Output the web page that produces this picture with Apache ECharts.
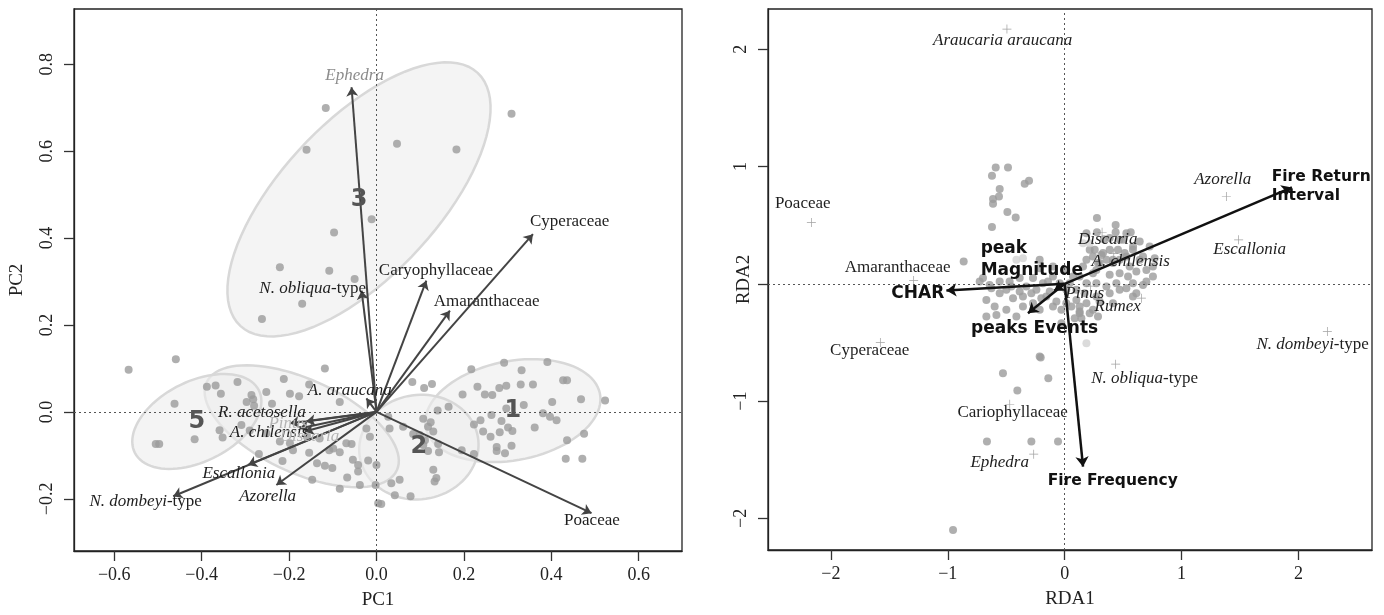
<!DOCTYPE html>
<html>
<head>
<meta charset="utf-8">
<script src="https://cdn.jsdelivr.net/npm/echarts@6/dist/echarts.min.js"></script>
<style>
    html, body { margin: 0; padding: 0; background: #fff; }
    #main { width: 1384px; height: 615px; }
</style>
</head>
<body>
<div id="main"></div>
<script>
// ---- PCA panel (left) ----
var pcaTicksX = [-0.6, -0.4, -0.2, 0.0, 0.2, 0.4, 0.6];
var pcaTicksY = [-0.2, 0.0, 0.2, 0.4, 0.6, 0.8];

// samples (PC1, PC2)
var pcaSites = [
    [-0.116,0.699],[-0.160,0.603],[0.309,0.686],[0.047,0.617],[0.183,0.604],[-0.011,0.443],[-0.097,0.413],
    [-0.221,0.333],[-0.108,0.325],[-0.050,0.306],[-0.170,0.249],[-0.262,0.214],
    [-0.459,0.121],[-0.567,0.097],[-0.118,0.100],[-0.212,0.076],[-0.154,0.063],[-0.318,0.069],[-0.388,0.058],
    [-0.368,0.061],[-0.356,0.042],[-0.252,0.046],[-0.198,0.042],[-0.177,0.036],[-0.286,0.039],[-0.282,0.029],
    [-0.462,0.019],[-0.297,0.023],[-0.280,0.014],[-0.239,0.019],[-0.084,0.023],[-0.359,-0.042],[-0.309,-0.030],
    [-0.352,-0.059],[-0.416,-0.063],[-0.505,-0.074],[-0.497,-0.074],[-0.290,-0.043],[-0.252,-0.049],[-0.221,-0.068],
    [-0.198,-0.072],[-0.269,-0.097],[-0.215,-0.113],[-0.191,-0.088],[-0.154,-0.094],[-0.136,-0.118],[-0.118,-0.124],
    [-0.101,-0.129],[-0.108,-0.088],[-0.099,-0.084],[-0.084,-0.093],[-0.069,-0.072],[-0.057,-0.074],[-0.054,-0.110],
    [-0.042,-0.122],[-0.042,-0.137],[-0.019,-0.112],[-0.147,-0.156],[-0.067,-0.151],[-0.038,-0.168],[-0.084,-0.177],
    [-0.002,-0.168],[0.000,-0.122],[0.004,-0.210],[-0.023,-0.038],[-0.015,-0.057],[-0.159,-0.057],[-0.130,-0.061],
    [0.082,0.069],[0.109,0.055],[0.127,0.064],[0.165,0.012],[0.140,0.003],[0.027,-0.011],[0.030,-0.038],
    [0.061,-0.034],[0.107,-0.016],[0.124,-0.024],[0.118,-0.034],[0.130,-0.045],[0.099,-0.053],[0.084,-0.051],
    [0.111,-0.065],[0.141,-0.074],[0.143,-0.093],[0.118,-0.090],[0.107,-0.076],[0.195,-0.088],[0.223,-0.097],
    [0.130,-0.133],[0.137,-0.152],[0.133,-0.160],[0.034,-0.164],[0.053,-0.156],[0.042,-0.192],[0.078,-0.194],
    [0.011,-0.212],
    [0.217,0.098],[0.292,0.113],[0.332,0.096],[0.391,0.115],[0.427,0.073],[0.436,0.073],[0.231,0.058],
    [0.248,0.040],[0.265,0.039],[0.281,0.055],[0.297,0.060],[0.330,0.063],[0.358,0.063],[0.197,0.040],
    [0.337,0.016],[0.297,0.008],[0.263,-0.007],[0.286,-0.021],[0.301,-0.036],[0.311,-0.044],[0.282,-0.047],
    [0.244,-0.045],[0.261,-0.057],[0.275,-0.081],[0.275,-0.090],[0.294,-0.095],[0.309,-0.078],[0.223,-0.029],
    [0.238,-0.019],[0.362,-0.036],[0.381,-0.003],[0.397,-0.011],[0.412,-0.019],[0.402,0.023],[0.468,0.029],
    [0.523,0.026],[0.475,-0.050],[0.436,-0.065],[0.433,-0.108],[0.471,-0.108]
];

// cluster ellipses: centre x, centre y, semi-major, semi-minor, angle (deg)
var clusterNames = ['1', '2', '3', '4', '5'];
var clusterCx = [0.312, 0.097, -0.040, -0.171, -0.411];
var clusterCy = [0.003, -0.081, 0.489, -0.033, -0.022];
var clusterA = [0.203, 0.137, 0.398, 0.240, 0.159];
var clusterB = [0.114, 0.120, 0.178, 0.107, 0.092];
var clusterAngle = [11, 10, 47, -25, 27];

// pollen taxa loadings
var pcaTaxa = ['Ephedra', 'N. obliqua-type', 'Cyperaceae', 'Caryophyllaceae', 'Amaranthaceae', 'Poaceae',
    'A. araucana', 'R. acetosella', 'A. chilensis', 'Pinus', 'Discaria', 'Escallonia', 'Azorella', 'N. dombeyi-type'];
var pcaTaxaX = [-0.057, -0.034, 0.358, 0.114, 0.168, 0.492, -0.023, -0.161, -0.176, -0.198, -0.164, -0.294, -0.229, -0.465];
var pcaTaxaY = [0.747, 0.279, 0.409, 0.302, 0.233, -0.233, 0.031, -0.022, -0.038, -0.026, -0.045, -0.122, -0.168, -0.194];
var pcaTaxaLabelX = [-0.050, -0.146, 0.442, 0.136, 0.252, 0.493, -0.061, -0.262, -0.246, -0.203, -0.153, -0.315, -0.249, -0.528];
var pcaTaxaLabelY = [0.775, 0.283, 0.439, 0.326, 0.255, -0.249, 0.049, -0.001, -0.047, -0.026, -0.056, -0.141, -0.194, -0.207];

// ---- RDA panel (right) ----
var rdaTicksX = [-2, -1, 0, 1, 2];
var rdaTicksY = [-2, -1, 0, 1, 2];
var rdaLabelsY = [-2, -1, 1, 2];

var rdaSites = [
    [-0.590,0.992],[-0.485,0.992],[-0.622,0.922],[-0.556,0.808],[-0.613,0.723],[-0.562,0.745],[-0.613,0.683],
    [-0.342,0.853],[-0.305,0.879],[-0.490,0.612],[-0.419,0.566],[-0.622,0.484],[-0.864,0.190],
    [0.276,0.561],[0.436,0.501],[0.276,0.441],[0.436,0.441],[0.565,0.441],[0.336,0.381],[0.499,0.375],
    [0.585,0.318],[0.257,0.290],[0.328,0.262],[0.413,0.205],[0.528,0.233],[0.670,0.233],[0.770,0.219],
    [0.755,0.148],[0.299,0.177],[0.271,0.119],
    [-0.727,0.020],[-0.642,-0.009],[-0.556,0.020],[-0.499,-0.051],[-0.670,-0.137],[-0.599,-0.193],[-0.442,-0.122],
    [-0.385,-0.066],[-0.328,-0.023],[-0.242,-0.051],[-0.157,-0.108],[-0.271,-0.165],[-0.357,-0.193],[-0.499,-0.222],
    [-0.413,-0.279],[-0.584,-0.265],[-0.670,-0.279],[-0.214,-0.222],[-0.100,-0.193],[0.014,-0.165],[0.100,-0.137],
    [0.128,-0.250],[-0.214,-0.620],[0.014,-0.051],[-0.143,0.020],[-0.271,0.049],[-0.385,0.049],[-0.471,0.020],
    [-0.214,0.134],[-0.100,0.148],[-0.214,0.205],
    [0.128,0.062],[0.186,0.006],[0.242,0.091],[0.285,0.177],[0.186,0.432],[0.385,0.390],[0.470,0.375],
    [0.528,0.432],[0.642,0.361],[0.727,0.318],[0.357,0.205],[0.413,0.177],[0.470,0.205],[0.556,0.148],
    [0.642,0.205],[0.699,0.119],[0.755,0.062],[0.584,0.006],[0.670,-0.009],[0.470,-0.051],[0.385,-0.080],
    [0.271,-0.108],[0.186,-0.165],[0.128,-0.193],[0.242,-0.222],[0.413,-0.165],[0.584,-0.108],[0.100,-0.051],
    [0.171,-0.080],[0.071,0.062],[0.043,0.006],[0.014,0.119],[0.186,0.205],[0.157,0.148],
    [-0.699,0.049],[-0.627,-0.037],[-0.556,-0.080],[-0.456,-0.023],[-0.357,-0.108],[-0.285,-0.080],[-0.200,-0.122],
    [-0.128,-0.066],[-0.071,-0.151],[-0.028,-0.222],[0.057,-0.193],[0.086,-0.293],[-0.028,-0.336],
    [0.214,0.290],[0.242,0.233],[0.314,0.247],[0.385,0.290],[0.456,0.290],[0.513,0.262],[0.584,0.290],
    [0.385,0.077],[0.470,0.091],[0.542,0.062],[0.613,0.105],[0.699,0.020],[0.271,0.006],[0.357,-0.023],
    [0.442,0.006],[0.528,-0.037],[0.613,-0.080],[0.299,-0.151],[0.214,-0.250],[0.143,-0.293],[0.285,-0.279],
    [-0.043,0.006],[-0.100,0.062],[-0.186,0.006],
    [-0.205,-0.629],[-0.528,-0.762],[-0.140,-0.805],[-0.405,-0.910],[-0.665,-1.345],[-0.285,-1.345],
    [-0.057,-1.345],[-0.955,-2.099],[0.128,-0.236]
];
var rdaSitesLight = [[0.157,0.347],[0.214,0.347],[-0.413,0.205],[-0.357,0.219],[0.186,-0.506]];

// species scores
var rdaTaxa = ['Araucaria araucana', 'Poaceae', 'Amaranthaceae', 'Cyperaceae', 'Cariophyllaceae', 'Ephedra', 'Azorella',
    'Escallonia', 'N. dombeyi-type', 'N. obliqua-type', 'Rumex', 'Discaria', 'A. chilensis', 'Pinus'];
var rdaTaxaX = [-0.494, -2.167, -1.292, -1.577, -0.470, -0.265, 1.383, 1.488, 2.247, 0.436, 0.656, 0.320, 0.420, 0.220];
var rdaTaxaY = [2.173, 0.523, 0.028, -0.501, -1.027, -1.453, 0.745, 0.375, -0.407, -0.685, -0.122, 0.440, 0.260, -0.020];
var rdaTaxaLabelX = [-0.530, -2.241, -1.429, -1.668, -0.445, -0.556, 1.352, 1.583, 2.121, 0.684, 0.453, 0.368, 0.565, 0.171];
var rdaTaxaLabelY = [2.073, 0.683, 0.137, -0.572, -1.101, -1.527, 0.887, 0.290, -0.520, -0.811, -0.196, 0.375, 0.188, -0.085];

// environmental vectors
var rdaEnv = ['Fire Return\nInterval', 'CHAR', 'Fire Frequency', 'peaks Events', 'peak\nMagnitude'];
var rdaEnvX = [1.944, -1.012, 0.157, -0.314, -0.090];
var rdaEnvY = [0.822, -0.057, -1.559, -0.250, -0.060];
var rdaEnvLabelX = [1.771, -1.257, 0.411, -0.257, -0.719];
var rdaEnvLabelY = [0.828, -0.085, -1.681, -0.378, 0.205];

var serif = 'Liberation Serif';
var sans = 'DejaVu Sans';
var fadedLabels = { 'Ephedra': '#8c8c8c', 'Pinus': '#b4b4b4', 'Discaria': '#b4b4b4' };

function minusFmt(digits) {
    return function (v) {
        return (v < 0 ? '\u2212' : '') + Math.abs(v).toFixed(digits);
    };
}

function taxonText(name) {
    if (/aceae$/.test(name)) return name;
    if (/-type$/.test(name)) return '{i|' + name.replace('-type', '') + '}-type';
    return '{i|' + name + '}';
}

function makeXAxis(idx, min, max, ticks, digits, name) {
    return {
        gridIndex: idx, type: 'value', min: min, max: max, name: name,
        nameLocation: 'middle', nameGap: 40, nameMoveOverlap: false,
        nameTextStyle: { fontFamily: serif, fontSize: 19, color: '#222' },
        axisLine: { show: true, onZero: false, lineStyle: { color: '#222', width: 1.3 } },
        axisTick: { show: true, inside: false, length: 10, customValues: ticks, lineStyle: { color: '#333', width: 1.3 } },
        axisLabel: { customValues: ticks, formatter: minusFmt(digits), margin: 15, fontFamily: serif, fontSize: 18, color: '#222' },
        splitLine: { show: false }
    };
}

function makeYAxis(idx, min, max, ticks, labels, digits, name, gap) {
    return {
        gridIndex: idx, type: 'value', min: min, max: max, name: name,
        nameLocation: 'middle', nameGap: gap, nameRotate: 90, nameMoveOverlap: false,
        nameTextStyle: { fontFamily: serif, fontSize: 19, color: '#222' },
        axisLine: { show: true, onZero: false, lineStyle: { color: '#222', width: 1.3 } },
        axisTick: { show: true, inside: false, length: 10, customValues: ticks, lineStyle: { color: '#333', width: 1.3 } },
        axisLabel: { customValues: labels, formatter: minusFmt(digits), rotate: 90, margin: 18, fontFamily: serif, fontSize: 18, color: '#222' },
        splitLine: { show: false }
    };
}

function zeroLines() {
    return {
        silent: true, symbol: 'none', animation: false,
        label: { show: false },
        lineStyle: { type: [2, 3], color: '#555', width: 1 },
        data: [{ xAxis: 0 }, { yAxis: 0 }]
    };
}

function textSeries(idx, texts, xs, ys, styleFn, z) {
    return {
        type: 'custom', xAxisIndex: idx, yAxisIndex: idx, silent: true, z: z || 6,
        data: texts.map(function (t, i) { return [xs[i], ys[i], i]; }),
        renderItem: function (params, api) {
            var i = api.value(2);
            var p = api.coord([api.value(0), api.value(1)]);
            var st = styleFn(texts[i]);
            st.text = st.text !== undefined ? st.text : texts[i];
            return { type: 'text', x: p[0], y: p[1], style: st };
        }
    };
}

function taxonStyle(name) {
    var col = fadedLabels[name] || '#1e1e1e';
    return {
        text: taxonText(name), fontFamily: serif, fontSize: 17, fill: col,
        align: 'center', verticalAlign: 'middle',
        rich: { i: { fontFamily: serif, fontSize: 17, fontStyle: 'italic', fill: col } }
    };
}

function arrowSeries(idx, xs, ys, color, width, size) {
    return {
        type: 'lines', coordinateSystem: 'cartesian2d', xAxisIndex: idx, yAxisIndex: idx,
        silent: true, z: 5, animation: false,
        symbol: ['none', 'arrow'], symbolSize: size,
        lineStyle: { color: color, width: width, opacity: 1, curveness: 0 },
        data: xs.map(function (x, i) { return { coords: [[0, 0], [x, ys[i]]] }; })
    };
}

var chart = echarts.init(document.getElementById('main'));
var option = {
    animation: false,
    backgroundColor: '#fff',
    grid: [
        { left: 74, top: 9, width: 608, height: 544, show: true, borderColor: '#222', borderWidth: 1.3, backgroundColor: 'transparent' },
        { left: 768, top: 9, width: 604, height: 541, show: true, borderColor: '#222', borderWidth: 1.3, backgroundColor: 'transparent' }
    ],
    xAxis: [
        makeXAxis(0, -0.692, 0.699, pcaTicksX, 1, 'PC1'),
        makeXAxis(1, -2.538, 2.629, rdaTicksX, 0, 'RDA1')
    ],
    yAxis: [
        makeYAxis(0, -0.320, 0.927, pcaTicksY, pcaTicksY, 1, 'PC2', 47),
        makeYAxis(1, -2.270, 2.344, rdaTicksY, rdaLabelsY, 0, 'RDA2', 14)
    ],
    series: [
        // cluster ellipses
        {
            type: 'custom', xAxisIndex: 0, yAxisIndex: 0, silent: true, z: 1,
            data: clusterNames.map(function (n, i) {
                return [clusterCx[i], clusterCy[i], clusterA[i], clusterB[i], clusterAngle[i]];
            }),
            renderItem: function (params, api) {
                var cx = api.value(0), cy = api.value(1), a = api.value(2), b = api.value(3);
                var th = api.value(4) * Math.PI / 180;
                var pts = [];
                for (var k = 0; k < 90; k++) {
                    var t = k / 90 * Math.PI * 2;
                    var x = cx + a * Math.cos(t) * Math.cos(th) - b * Math.sin(t) * Math.sin(th);
                    var y = cy + a * Math.cos(t) * Math.sin(th) + b * Math.sin(t) * Math.cos(th);
                    pts.push(api.coord([x, y]));
                }
                return { type: 'polygon', shape: { points: pts }, style: { fill: 'rgba(236,236,236,0.6)', stroke: '#d8d8d8', lineWidth: 2.5 } };
            }
        },
        {
            type: 'scatter', xAxisIndex: 0, yAxisIndex: 0, symbolSize: 8, z: 3, silent: true,
            itemStyle: { color: '#9b9b9b' },
            data: pcaSites,
            markLine: zeroLines()
        },
        arrowSeries(0, pcaTaxaX, pcaTaxaY, '#444', 2, [0, 9]),
        textSeries(0, pcaTaxa, pcaTaxaLabelX, pcaTaxaLabelY, taxonStyle),
        textSeries(0, ['1', '2', '3', '5'], [clusterCx[0], clusterCx[1], clusterCx[2], clusterCx[4]],
            [clusterCy[0], clusterCy[1], clusterCy[2], clusterCy[4]], function (t) {
                return { fontFamily: sans, fontWeight: 'bold', fontSize: 24, fill: '#555', align: 'center', verticalAlign: 'middle' };
            }, 7),

        // RDA
        {
            type: 'scatter', xAxisIndex: 1, yAxisIndex: 1, symbolSize: 8, z: 3, silent: true,
            itemStyle: { color: '#9b9b9b' },
            data: rdaSites,
            markLine: zeroLines()
        },
        {
            type: 'scatter', xAxisIndex: 1, yAxisIndex: 1, symbolSize: 8, z: 3, silent: true,
            itemStyle: { color: '#d2d2d2' },
            data: rdaSitesLight
        },
        {
            type: 'scatter', xAxisIndex: 1, yAxisIndex: 1, z: 4, silent: true,
            symbol: 'path://M4.6,0h0.8v10h-0.8zM0,4.6h10v0.8h-10z', symbolSize: 9,
            itemStyle: { color: '#8a8a8a' },
            data: rdaTaxaX.map(function (x, i) { return [x, rdaTaxaY[i]]; })
        },
        textSeries(1, rdaTaxa, rdaTaxaLabelX, rdaTaxaLabelY, function (name) {
            var st = taxonStyle(name);
            st.fill = '#1e1e1e'; st.rich.i.fill = '#1e1e1e';
            return st;
        }),
        arrowSeries(1, rdaEnvX, rdaEnvY, '#111', 2.5, [0, 10]),
        textSeries(1, rdaEnv, rdaEnvLabelX, rdaEnvLabelY, function (t) {
            var isFire = t.indexOf('Fire') === 0;
            return {
                fontFamily: sans, fontWeight: 'bold', fontSize: isFire ? 15.5 : 17, fill: '#111',
                lineHeight: isFire ? 19 : 22,
                align: t.indexOf('\n') >= 0 ? 'left' : 'center', verticalAlign: 'middle'
            };
        }, 7)
    ]
};
chart.setOption(option);
</script>
</body>
</html>
